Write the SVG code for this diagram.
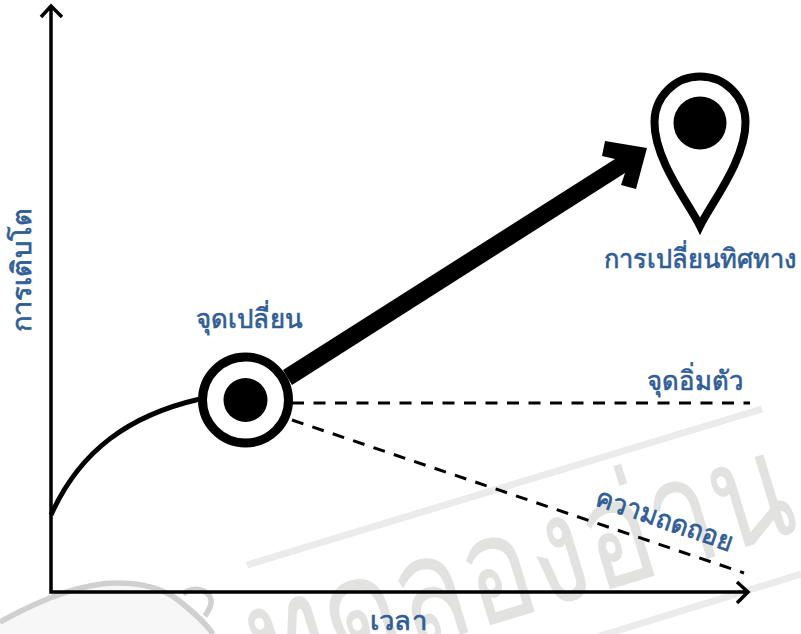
<svg xmlns="http://www.w3.org/2000/svg" width="801" height="634" viewBox="0 0 801 634">
<style>
.wm{fill:none;stroke:#ebebeb;stroke-width:7}
.wt{font-family:"Noto Sans","Liberation Sans",sans-serif;font-size:150px;fill:#e2e2e1}
.lb{font-family:"Noto Sans","Liberation Sans",sans-serif;font-weight:500;font-size:27px;fill:#2f5d94;stroke:#2f5d94;stroke-width:.7}
.ax{fill:none;stroke:#000;stroke-width:3.5}
.da{fill:none;stroke:#000;stroke-width:3;stroke-dasharray:12 9.500}
</style>
<rect width="801" height="634" fill="#fff"/>
<g id="watermark">
<path class="wm" d="M247 565L762 409M597 637L801 574"/>
<text class="wt" transform="translate(266 694) rotate(-17)" textLength="560" lengthAdjust="spacingAndGlyphs">ทดลองอ่าน</text>
<path d="M0 634V622C50 592 130 570 175 594C195 608 208 622 214 634Z" fill="#f7f7f7"/>
<path d="M0 622C45 597 85 583 117 583C145 583 165 590 178 600C193 612 205 622 213 634M183 594C195 585 209 590 211 600C212 606 208 611 205 616" fill="none" stroke="#d0d0d0" stroke-width="5.500"/>
</g>
<g id="connectors">
<path class="ax" d="M51 6V592H748M41 17L51 6L62 17M737 582L748 592L737 603"/>
<path d="M51 515C80 450 130 415 200 399" fill="none" stroke="#000" stroke-width="5"/>
<path class="da" d="M292 403H750M292 420L744 573"/>
<polygon points="283,370 615,159 602,156 605,141 647,148 636,189 621,185 625,173 292,385" fill="#000"/>
</g>
<g id="turning-point">
<circle cx="245.500" cy="400" r="43" fill="#fff" stroke="#000" stroke-width="9"/>
<circle cx="245.500" cy="400" r="22"/>
<text class="lb" x="196" y="328" textLength="106" lengthAdjust="spacingAndGlyphs">จุดเปลี่ยน</text>
</g>
<g id="pin">
<path d="M700 226C690 205 654 160 654.500 122A45.500 45.500 0 0 1 745.500 122C746 160 710 205 700 226Z" fill="#fff" stroke="#000" stroke-width="8"/>
<circle cx="700" cy="123" r="26.500"/>
<text class="lb" x="604" y="268" textLength="192" lengthAdjust="spacingAndGlyphs">การเปลี่ยนทิศทาง</text>
</g>
<g id="plateau"><text class="lb" x="647" y="390" textLength="96" lengthAdjust="spacingAndGlyphs">จุดอิ่มตัว</text></g>
<g id="decline"><text class="lb" transform="translate(594 505) rotate(19)" textLength="143" lengthAdjust="spacingAndGlyphs">ความถดถอย</text></g>
<g id="x-label"><text class="lb" x="370" y="630" textLength="57" lengthAdjust="spacingAndGlyphs">เวลา</text></g>
<g id="y-label"><text class="lb" transform="translate(31 332) rotate(-90)" textLength="124" lengthAdjust="spacingAndGlyphs">การเติบโต</text></g>
</svg>
